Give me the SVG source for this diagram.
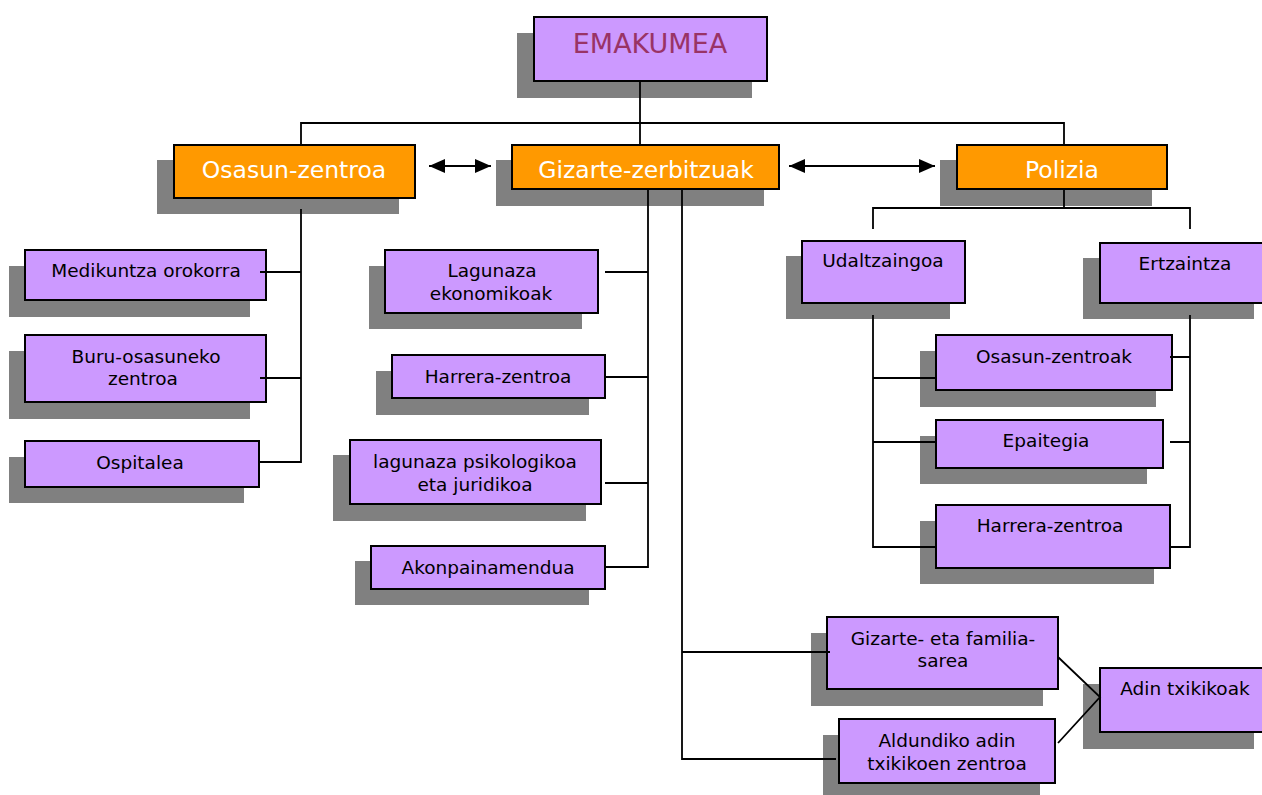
<svg xmlns="http://www.w3.org/2000/svg" width="1262" height="795" viewBox="0 0 1262 795">
<style>
.sh{fill:#808080}
.bx{fill:#CC99FF;stroke:#000;stroke-width:2}
.ob{fill:#FF9900;stroke:#000;stroke-width:2}
.t{font-family:"DejaVu Sans",Verdana,sans-serif;font-size:18.5px;fill:#000;text-anchor:middle}
.h{font-size:23.5px;fill:#fff}
.top{font-size:27px;fill:#993366}
.c{fill:none;stroke:#000;stroke-width:1.8}
</style>
<defs>
<marker id="ah" markerUnits="userSpaceOnUse" markerWidth="16" markerHeight="14" refX="16" refY="7" orient="auto-start-reverse">
<path d="M0,0 L16,7 L0,14 z" fill="#000"/>
</marker>
</defs>
<rect width="1262" height="795" fill="#fff"/>

<g id="emakumea">
<rect class="sh" x="517" y="33" width="235" height="65"/>
<rect class="bx" x="534" y="17" width="233" height="64"/>
<text class="t top" x="650" y="53">EMAKUMEA</text>
</g>

<g id="osasun-zentroa">
<rect class="sh" x="157" y="160" width="242" height="54"/>
<rect class="ob" x="174" y="145" width="241" height="53"/>
<text class="t h" x="294" y="178">Osasun-zentroa</text>
</g>

<g id="gizarte-zerbitzuak">
<rect class="sh" x="496" y="160" width="268" height="46"/>
<rect class="ob" x="512" y="145" width="267" height="44"/>
<text class="t h" x="646" y="178">Gizarte-zerbitzuak</text>
</g>

<g id="polizia">
<rect class="sh" x="940" y="160" width="212" height="46"/>
<rect class="ob" x="957" y="145" width="210" height="44"/>
<text class="t h" x="1062" y="178">Polizia</text>
</g>

<g id="medikuntza">
<rect class="sh" x="9" y="266" width="241" height="51"/>
<rect class="bx" x="25" y="250" width="241" height="50"/>
<text class="t" x="146" y="277">Medikuntza orokorra</text>
</g>

<g id="buru-osasuneko">
<rect class="sh" x="9" y="351" width="241" height="68"/>
<rect class="bx" x="25" y="335" width="241" height="67"/>
<text class="t" x="146" y="363">Buru-osasuneko</text>
<text class="t" x="143" y="385">zentroa</text>
</g>

<g id="ospitalea">
<rect class="sh" x="9" y="457" width="235" height="46"/>
<rect class="bx" x="25" y="441" width="234" height="46"/>
<text class="t" x="140" y="469">Ospitalea</text>
</g>

<g id="lagunaza-ekonomikoak">
<rect class="sh" x="369" y="266" width="213" height="63"/>
<rect class="bx" x="385" y="250" width="213" height="63"/>
<text class="t" x="492" y="277">Lagunaza</text>
<text class="t" x="491" y="300">ekonomikoak</text>
</g>

<g id="harrera-zentroa-1">
<rect class="sh" x="376" y="371" width="213" height="44"/>
<rect class="bx" x="392" y="355" width="213" height="43"/>
<text class="t" x="498" y="383">Harrera-zentroa</text>
</g>

<g id="lagunaza-psikologikoa">
<rect class="sh" x="333" y="455" width="253" height="66"/>
<rect class="bx" x="350" y="440" width="251" height="64"/>
<text class="t" x="475" y="468">lagunaza psikologikoa</text>
<text class="t" x="475" y="491">eta juridikoa</text>
</g>

<g id="akonpainamendua">
<rect class="sh" x="355" y="561" width="234" height="44"/>
<rect class="bx" x="371" y="546" width="234" height="43"/>
<text class="t" x="488" y="574">Akonpainamendua</text>
</g>

<g id="udaltzaingoa">
<rect class="sh" x="786" y="256" width="164" height="63"/>
<rect class="bx" x="802" y="241" width="163" height="62"/>
<text class="t" x="883" y="267">Udaltzaingoa</text>
</g>

<g id="ertzaintza">
<rect class="sh" x="1083" y="258" width="171" height="61"/>
<rect class="bx" x="1100" y="243" width="172" height="60"/>
<text class="t" x="1185" y="270">Ertzaintza</text>
</g>

<g id="osasun-zentroak">
<rect class="sh" x="920" y="351" width="236" height="56"/>
<rect class="bx" x="936" y="335" width="236" height="55"/>
<text class="t" x="1054" y="363">Osasun-zentroak</text>
</g>

<g id="epaitegia">
<rect class="sh" x="920" y="436" width="227" height="48"/>
<rect class="bx" x="936" y="420" width="227" height="48"/>
<text class="t" x="1046" y="447">Epaitegia</text>
</g>

<g id="harrera-zentroa-2">
<rect class="sh" x="920" y="521" width="234" height="63"/>
<rect class="bx" x="936" y="505" width="234" height="63"/>
<text class="t" x="1050" y="532">Harrera-zentroa</text>
</g>

<g id="gizarte-familia-sarea">
<rect class="sh" x="811" y="633" width="232" height="73"/>
<rect class="bx" x="827" y="617" width="231" height="72"/>
<text class="t" x="943" y="645">Gizarte- eta familia-</text>
<text class="t" x="943" y="667">sarea</text>
</g>

<g id="aldundiko">
<rect class="sh" x="823" y="735" width="217" height="60"/>
<rect class="bx" x="839" y="719" width="216" height="64"/>
<text class="t" x="947" y="747">Aldundiko adin</text>
<text class="t" x="947" y="770">txikikoen zentroa</text>
</g>

<g id="adin-txikikoak">
<rect class="sh" x="1083" y="684" width="171" height="65"/>
<rect class="bx" x="1100" y="668" width="172" height="64"/>
<text class="t" x="1185" y="695">Adin txikikoak</text>
</g>

<g id="connectors">
<path class="c" d="M640,81 V145 M301,145 V123 H1064 V145"/>
<line class="c" x1="429" y1="166" x2="491" y2="166" marker-start="url(#ah)" marker-end="url(#ah)"/>
<line class="c" x1="789" y1="166" x2="935" y2="166" marker-start="url(#ah)" marker-end="url(#ah)"/>
<path class="c" d="M301,209 V462 H259 M260,272 H301 M260,378 H301"/>
<path class="c" d="M648,189 V567 H605 M605,272 H648 M605,377 H648 M605,483 H648"/>
<path class="c" d="M682,189 V759 H836 M682,652 H830"/>
<path class="c" d="M1058,657 L1100,697 L1058,743"/>
<path class="c" d="M1064,189 V208 M873,229 V208 H1190 V229"/>
<path class="c" d="M873,315 V547 H936 M873,378 H936 M873,442 H936"/>
<path class="c" d="M1190,315 V547 H1170 M1170,357 H1190 M1170,442 H1190"/>
</g>
</svg>
